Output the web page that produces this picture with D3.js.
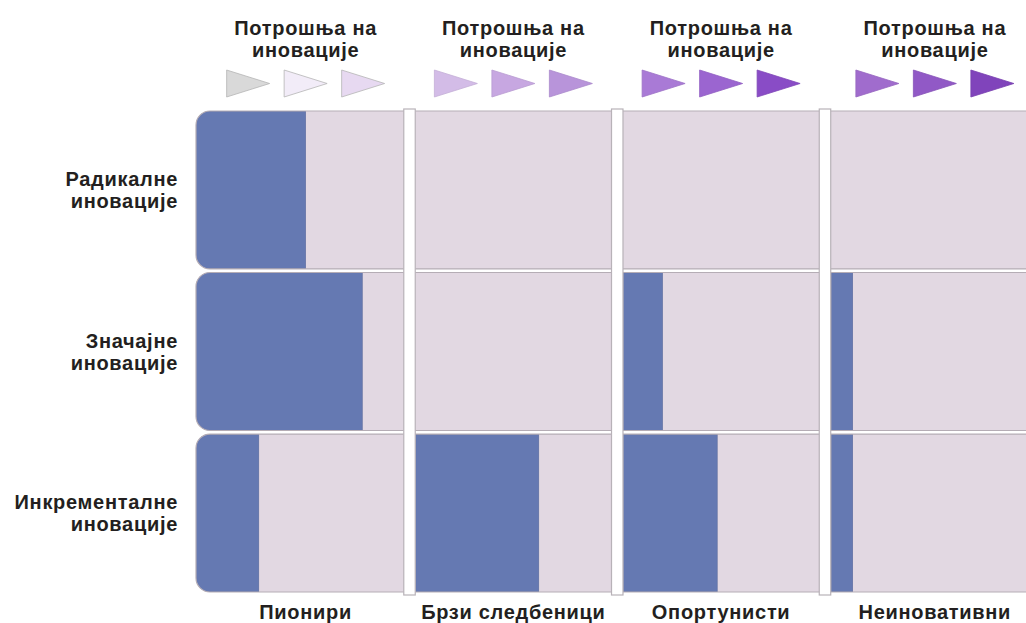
<!DOCTYPE html>
<html>
<head>
<meta charset="utf-8">
<script src="https://cdn.jsdelivr.net/npm/d3@7"></script>
<style>
  body { margin: 0; background: #fff; }
  text { font-family: "Liberation Sans", Arial, sans-serif; font-weight: bold; fill: #231f20; letter-spacing: 0.7px; }
</style>
</head>
<body>
<div id="container"></div>
<script>
// categories
const columns = ["Пионири", "Брзи следбеници", "Опортунисти", "Неиновативни"];
const rows = [["Радикалне", "иновације"], ["Значајне", "иновације"], ["Инкременталне", "иновације"]];
const headerLines = ["Потрошња на", "иновације"];
// share of each cell filled (row x column)
const radical = [0.50, 0, 0, 0];
const significant = [0.79, 0, 0.20, 0.11];
const incremental = [0.26, 0.63, 0.48, 0.11];
// spending arrows, light to dark
const arrowColors = [
  "#d9d9d9", "#f2ecf8", "#e7d9f1",
  "#d3bce7", "#c7a7e1", "#b894da",
  "#a97ad6", "#9b65d0", "#894cc6",
  "#a06ccd", "#9159c6", "#8044bb"
];

const values = [radical, significant, incremental];

const width = 1026, height = 623;
const svg = d3.select("#container").append("svg")
  .attr("width", width).attr("height", height);

const x = d3.scaleBand().domain(d3.range(columns.length)).range([208, 1026.5]).paddingInner(0.06);
const y = d3.scaleBand().domain(d3.range(rows.length)).range([111, 592]).paddingInner(0.022);
const fill = d3.scaleLinear().domain([0, 1]);
const left = 196;

const defs = svg.append("defs");

// rows
rows.forEach((r, i) => {
  const y0 = y(i), h = y.bandwidth();
  defs.append("clipPath").attr("id", "clip" + i)
    .append("rect").attr("x", left).attr("y", y0).attr("width", 900).attr("height", h).attr("rx", 14);
  const g = svg.append("g").attr("clip-path", `url(#clip${i})`);
  g.append("rect").attr("x", left - 6).attr("y", y0).attr("width", 900).attr("height", h).attr("fill", "#e2d8e2");
  values[i].forEach((v, j) => {
    if (v <= 0) return;
    const x0 = j === 0 ? left - 6 : x(j);
    fill.range([x(j), x(j) + x.bandwidth()]);
    g.append("rect").attr("x", x0).attr("y", y0).attr("width", fill(v) - x0).attr("height", h)
      .attr("fill", "#6579b2").attr("stroke", "#5a6a9c").attr("stroke-width", 0.6);
  });
  svg.append("rect").attr("x", left).attr("y", y0).attr("width", 900).attr("height", h).attr("rx", 14)
    .attr("fill", "none").attr("stroke", "#b5adb5").attr("stroke-width", 1.2);
});

// white separators between columns
d3.range(1, columns.length).forEach(j => {
  const sx = x(j) - x.step() * x.paddingInner();
  svg.append("rect").attr("x", sx + 0.5).attr("y", 109).attr("width", x(j) - sx - 1).attr("height", 486)
    .attr("fill", "#fff").attr("stroke", "#b8b2b8").attr("stroke-width", 1.2);
});

// headers
columns.forEach((c, j) => {
  const cx = x(j) + x.bandwidth() / 2 + (j === 3 ? 6 : 0);
  const t = svg.append("text").attr("text-anchor", "middle").attr("font-size", 20);
  headerLines.forEach((l, k) => t.append("tspan").attr("x", cx).attr("y", 35 + k * 22).text(l));
  [-1, 0, 1].forEach((o, k) => {
    const tx = cx + o * 57.5 - 21.5;
    const col = arrowColors[j * 3 + k];
    svg.append("path")
      .attr("d", d3.line()([[tx, 70], [tx + 43, 83.5], [tx, 97]]) + "Z")
      .attr("fill", col)
      .attr("stroke", j === 0 ? "#b5b5b5" : d3.color(col).darker(0.2))
      .attr("stroke-width", 0.8);
  });
  svg.append("text").attr("text-anchor", "middle").attr("font-size", 20)
    .attr("x", cx).attr("y", 619).text(c);
});

// row labels
rows.forEach((r, i) => {
  const cy = y(i) + y.bandwidth() / 2;
  const t = svg.append("text").attr("text-anchor", "end").attr("font-size", 20);
  r.forEach((l, k) => t.append("tspan").attr("x", 178).attr("y", cy - 4 + k * 22).text(l));
});
</script>
</body>
</html>
